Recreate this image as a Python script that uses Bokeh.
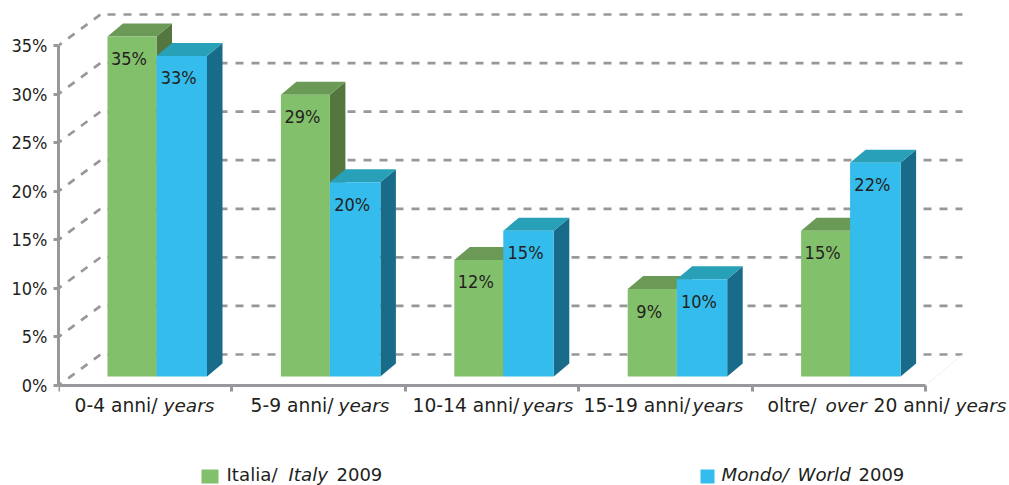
from bokeh.plotting import figure
from bokeh.models import Range1d, LinearAxis, FixedTicker, PrintfTickFormatter
from bokeh.core.properties import value
from bokeh.embed import file_html
from bokeh.resources import INLINE

# ---- data ----
categories = ["0-4 anni/years", "5-9 anni/years", "10-14 anni/years", "15-19 anni/years", "oltre/over 20 anni/years"]
italia = [35, 29, 12, 9, 15]
mondo = [33, 20, 15, 10, 22]
y_ticks = [0, 5, 10, 15, 20, 25, 30, 35]
tick_labels_fmt = "%d%%"
legend_names = ["Italia/Italy 2009", "Mondo/World 2009"]

# ---- layout constants ----
FONT = "DejaVu Sans Condensed"
FONT2 = "DejaVu Sans"
PX_X, PX_Y = 173.4, 9.714           # pixels per category / per percent
LEFT, ZERO, TOP, BOTTOM = 58, 385, 0, 485
W = 1009
RIGHT = W
sx = lambda px: (px - LEFT) / PX_X
sy = lambda px: (ZERO - px) / PX_Y

p = figure(width=W, height=485, output_backend="svg", toolbar_location=None,
           x_range=Range1d(0, sx(RIGHT)), y_range=Range1d(sy(BOTTOM), sy(TOP)),
           x_axis_type=None, y_axis_type=None,
           min_border_left=LEFT, min_border_right=0, min_border_top=0, min_border_bottom=0,
           outline_line_color=None, background_fill_color=None, border_fill_color="white")
p.grid.visible = False

AXIS = "#98989C"
yax = LinearAxis(ticker=FixedTicker(ticks=y_ticks), formatter=PrintfTickFormatter(format=tick_labels_fmt),
                 bounds=(0, 35), axis_line_color=AXIS, axis_line_width=3,
                 major_tick_line_color=AXIS, major_tick_line_width=3, major_tick_in=0, major_tick_out=5,
                 minor_tick_line_color=None, major_label_standoff=6,
                 major_label_text_font=FONT, major_label_text_font_size="18px", major_label_text_color="#231F20")
p.add_layout(yax, "left")
xax = LinearAxis(ticker=FixedTicker(ticks=list(range(len(categories) + 1))),
                 major_label_overrides={i: "" for i in range(len(categories) + 1)},
                 bounds=(0, 5), fixed_location=0, axis_line_color=AXIS, axis_line_width=3,
                 major_tick_line_color=AXIS, major_tick_line_width=3, major_tick_in=0, major_tick_out=6,
                 minor_tick_line_color=None)
p.add_layout(xax, "below")

# back walls
BACK_DX, BACK_DY = 42 / PX_X, 31 / PX_Y
GRID_START = sx(107)
GRID_END = sx(962)
p.segment(x0=[GRID_START] * len(y_ticks), y0=[t + BACK_DY for t in y_ticks],
          x1=[GRID_END] * len(y_ticks), y1=[t + BACK_DY for t in y_ticks],
          line_color=AXIS, line_width=2.7, line_dash="8 8")
p.segment(x0=[0] * len(y_ticks), y0=y_ticks,
          x1=[BACK_DX] * len(y_ticks), y1=[t + BACK_DY for t in y_ticks],
          line_color=AXIS, line_width=2.7, line_dash="8 8", line_dash_offset=4)
p.segment(x0=[5], y0=[0], x1=[GRID_END], y1=[BACK_DY], line_color="#F1F1F1", line_width=1)

# bars
DX, DY = 15.5 / PX_X, 13 / PX_Y
BASE = 9 / PX_Y
G0, G1, B1 = 49 / PX_X, 98 / PX_X, 148.5 / PX_X
colors = {"g": ("#83C06B", "#6B9956", "#54773F"), "b": ("#33BCEC", "#28A0B8", "#186C8A")}
TXT = "#231F20"

def bar(l, r, v, c):
    top = v + BASE
    front, topc, side = c
    p.patch([r, r + DX, r + DX, r], [BASE, BASE + DY, top + DY, top], color=side, line_width=0)
    p.patch([l, r, r + DX, l + DX], [top, top, top + DY, top + DY], color=topc, line_width=0)
    p.quad(left=l, right=r, bottom=BASE, top=top, color=front, line_width=0)

lx, ly, lt = [], [], []
for i, (a, b) in enumerate(zip(italia, mondo)):
    bar(i + G0, i + G1, a, colors["g"])
    bar(i + G1, i + B1, b, colors["b"])
    lx += [i + (G0 + G1) / 2, i + (G1 + B1) / 2]
    ly += [a + BASE, b + BASE]
    lt += [f"{a}%", f"{b}%"]
p.text(lx, ly, text=lt, text_font=value(FONT), text_font_size="18px", text_color=TXT,
       text_align="center", text_baseline="middle", x_offset=-3, y_offset=22)

# multi-style texts: (screen x start, text, style, size)
def pieces(items, y_px):
    for px, t, style, size in items:
        p.text([sx(px)], [sy(y_px)], text=[t], text_font=value(FONT2),
               text_font_size=size,
               text_font_style=style, text_color=TXT, text_align="left", text_baseline="middle")

N, I = "18.7px", "18.5px"
pieces([(74, "0-4 anni/", "normal", N), (163, "years", "italic", I),
        (250, "5-9 anni/", "normal", N), (338, "years", "italic", I),
        (412, "10-14 anni/", "normal", N), (522, "years", "italic", I),
        (583, "15-19 anni/", "normal", N), (692, "years", "italic", I),
        (767, "oltre/", "normal", N), (825, "over", "italic", I), (873, "20 anni/", "normal", N), (955, "years", "italic", I)], 405)
pieces([(226, "Italia/", "normal", "18.2px"), (288, "Italy", "italic", "18.2px"), (336, "2009", "normal", "18px"),
        (721, "Mondo/", "italic", "18.2px"), (797, "World", "italic", "18.2px"), (858, "2009", "normal", "18px")], 473.5)

# legend swatches
p.quad(left=[sx(201), sx(700)], right=[sx(218), sx(714)], bottom=[sy(483)] * 2, top=[sy(469)] * 2,
       color=[colors["g"][0], colors["b"][0]], line_width=0)

open("out.html", "w").write(file_html(p, INLINE))
